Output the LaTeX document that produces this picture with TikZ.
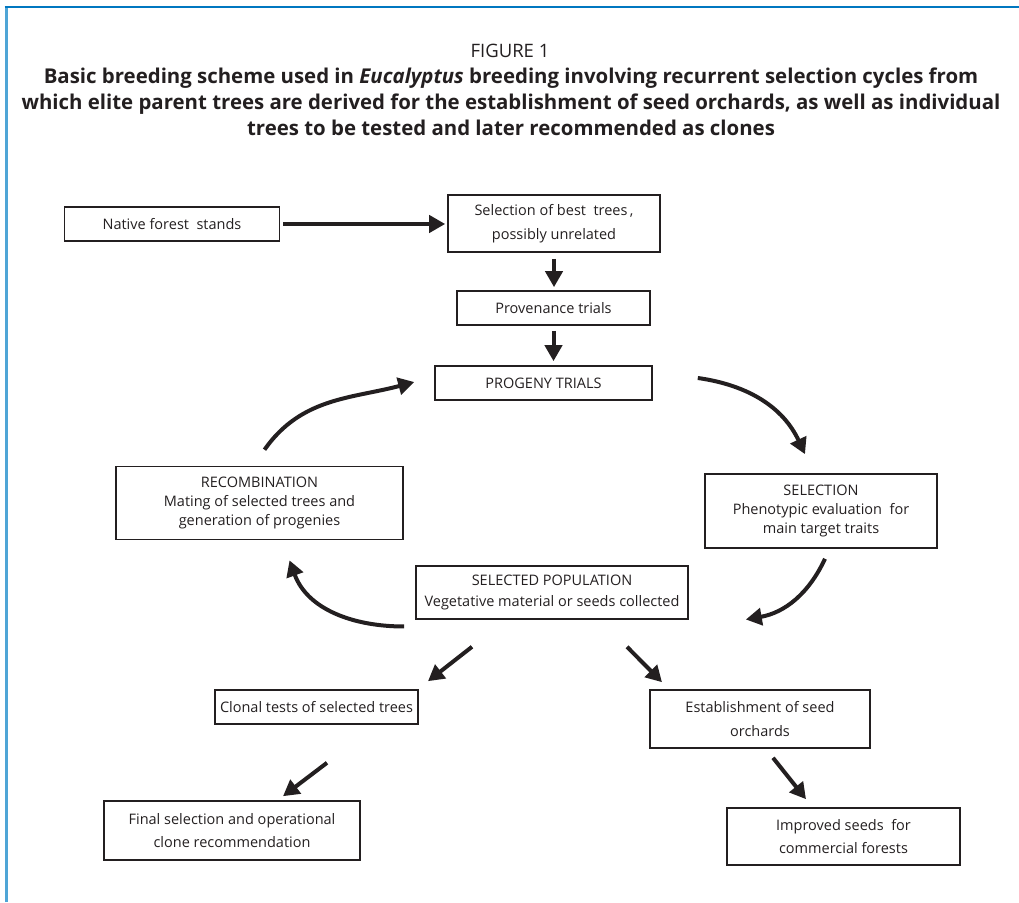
\documentclass[tikz,border=0pt]{standalone}
\usepackage{fontspec}
\setmainfont{Open Sans}
\usetikzlibrary{arrows.meta}
\definecolor{framedark}{HTML}{0077C0}
\definecolor{framelight}{HTML}{4FA5D6}
\definecolor{ink}{HTML}{231F20}
\tikzset{
    box/.style={draw=ink, line width=1.6pt, align=center, inner sep=0pt, text=ink,
        font=\fontsize{14.5}{19}\selectfont},
    widebox/.style={box, font=\fontsize{14.5}{23.5}\selectfont},
    arr/.style={draw=ink, line width=4pt, -{Triangle[length=16pt,width=17pt]}}
}
\begin{document}
\begin{tikzpicture}[x=1pt, y=1pt]
        \useasboundingbox (0,0) rectangle (1019,902);
        \draw[framelight, line width=3pt] (6,0) -- (6,896);
        \draw[framedark, line width=2.5pt] (4.5,895) -- (1019,895);

        % title
        \node[text=ink, font=\fontsize{18.5}{26}\selectfont] (fig) at (510,851) {FIGURE 1};
        \node[text=ink, align=center, font=\bfseries\fontsize{20.4}{26}\selectfont] (cap) at (511,800)
            {Basic breeding scheme used in \textit{Eucalyptus} breeding involving recurrent selection cycles from\\
             which elite parent trees are derived for the establishment of seed orchards, as well as individual\\
             trees to be tested and later recommended as clones};

        \node[box, minimum width=215pt, minimum height=34pt] (native) at (172,678) {Native forest \ stands};
        \node[widebox, minimum width=212pt, minimum height=57pt] (best) at (554,678.5) {Selection of best \ trees\,,\\ possibly unrelated};
        \node[box, minimum width=193pt, minimum height=34pt] (prov) at (553.5,594) {Provenance trials};
        \node[box, minimum width=217pt, minimum height=34pt] (prog) at (543.5,519) {PROGENY TRIALS};
        \node[box, minimum width=287pt, minimum height=73pt] (recomb) at (259.5,399) {RECOMBINATION\\Mating of selected trees and\\generation of progenies};
        \node[box, minimum width=232pt, minimum height=74pt] (select) at (821,391) {SELECTION\\Phenotypic evaluation \ for\\main target traits};
        \node[box, font=\fontsize{14.5}{21}\selectfont, minimum width=272pt, minimum height=53pt] (pop) at (552,309.5) {SELECTED POPULATION\\Vegetative material or seeds collected};
        \node[box, minimum width=203pt, minimum height=34pt] (clonal) at (316.5,195) {Clonal tests of selected trees};
        \node[widebox, minimum width=220pt, minimum height=58pt] (orch) at (760,183) {Establishment of seed\\orchards};
        \node[widebox, minimum width=256pt, minimum height=59pt] (final) at (232,71.5) {Final selection and operational\\clone recommendation};
        \node[widebox, minimum width=233pt, minimum height=57pt] (seeds) at (843.5,65.5) {Improved seeds \ for\\commercial forests};

        \draw[arr, shorten <=3pt, shorten >=2pt] (native.east) -- (native.east -| best.west);
        \draw[arr, shorten <=6pt, shorten >=3pt] (best.south) -- (best.south |- prov.north);
        \draw[arr, shorten <=5pt, shorten >=4pt] (prov.south) -- (prov.south |- prog.north);

        % the breeding cycle
        \draw[arr] ([shift={(45,5)}]prog.east) to[out=-8, in=115] ([shift={(-16,19)}]select.north);
        \draw[arr] ([shift={(4,-10)}]select.south) to[out=-115, in=10] ([shift={(57,-27)}]pop.east);
        \draw[arr] ([shift={(-11,-34)}]pop.west) to[out=180, in=-70] ([shift={(30,-20)}]recomb.south);
        \draw[arr] ([shift={(5,16)}]recomb.north) to[out=55, in=195] ([shift={(-20,1)}]prog.west);

        \draw[arr] ([shift={(-80,-27)}]pop.south) -- ([shift={(111.5,8)}]clonal.north);
        \draw[arr] ([shift={(75,-27)}]pop.south) -- ([shift={(-98,7)}]orch.north);
        \draw[arr] ([shift={(10.5,-38)}]clonal.south) -- ([shift={(51,4)}]final.north);
        \draw[arr] ([shift={(13,-9)}]orch.south) -- ([shift={(-37.5,8)}]seeds.north);
    \end{tikzpicture}
\end{document}
